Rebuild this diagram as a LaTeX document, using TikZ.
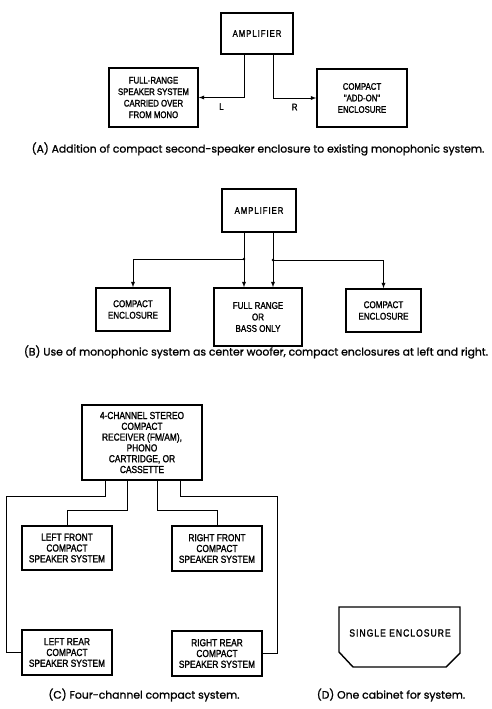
\documentclass[tikz,border=0pt]{standalone}
\usepackage{fontspec}
\newfontfamily\boxfont[FakeStretch=0.82, FakeBold=1.5]{Liberation Sans}
\newfontfamily\widefont[FakeStretch=0.82, FakeBold=1.5, LetterSpace=10]{Liberation Sans}
\newfontfamily\capfont[FakeBold=1.2]{Poppins}
\usetikzlibrary{
  arrows,
  positioning
}

\begin{document}
\begin{tikzpicture}[x=1pt, y=-1pt, >=latex,
        unit/.style={draw, line width=1.4pt, inner sep=0pt, align=center},
        unitA/.style={unit, font=\boxfont\fontsize{9.5}{11.5}\selectfont},
        unitB/.style={unit, font=\boxfont\fontsize{9.8}{11.5}\selectfont},
        unitC/.style={unit, font=\boxfont\fontsize{10.2}{10.8}\selectfont},
        wire/.style={line width=0.9pt},
        caption/.style={font=\capfont\fontsize{10.8}{12}\selectfont}]
        \useasboundingbox (0,0) rectangle (492,709);
        % (A) add-on enclosure
        \node[unitA, minimum width=72pt, minimum height=41pt, font=\widefont\fontsize{9.5}{11.5}\selectfont]
          (ampA) at (257,33.5) {AMPLIFIER};
        \node[unitA, minimum width=89pt, minimum height=59pt] (fullA) at (153.5,97.5)
          {FULL-RANGE\\SPEAKER SYSTEM\\CARRIED OVER\\FROM MONO};
        \node[unitA, minimum width=90pt, minimum height=58pt] (addA) at (362,98)
          {COMPACT\\"ADD-ON"\\ENCLOSURE};
	\draw[wire, ->] ([xshift=-13pt]ampA.south) |- (fullA.east)
          node[pos=0.75, below=2pt, font=\boxfont\fontsize{9.5}{11.5}\selectfont] (labL) {L};
	\draw[wire, ->] ([xshift=16pt]ampA.south) |- (addA.west)
          node[pos=0.75, below=2pt, font=\boxfont\fontsize{9.5}{11.5}\selectfont] (labR) {R};
        \node[caption] (capA) at (258,149)
          {(A) Addition of compact second-speaker enclosure to existing monophonic system.};
        % (B) center woofer
        \node[unitB, minimum width=74pt, minimum height=43pt, font=\widefont\fontsize{9.5}{11.5}\selectfont]
          (ampB) at (259,210.5) {AMPLIFIER};
        \node[unitB, minimum width=74pt, minimum height=43pt] (leftB) at (133,309.5)
          {COMPACT\\ENCLOSURE};
        \node[unitB, minimum width=88pt, minimum height=58pt] (midB) at (258,317)
          {FULL RANGE\\OR\\BASS ONLY};
        \node[unitB, minimum width=75pt, minimum height=43pt] (rightB) at (383.5,310.5)
          {COMPACT\\ENCLOSURE};
        \coordinate (jl) at (244,259);
        \coordinate (jr) at (273,260);
	\draw[wire, ->] (ampB.south -| jl) -- (midB.north -| jl);
	\draw[wire, ->] (ampB.south -| jr) -- (midB.north -| jr);
	\draw[wire, ->] (jl) -| (leftB.north);
	\draw[wire, ->] (jr) -| (rightB.north);
        \filldraw (jl) circle (1.2pt);
        \filldraw (jr) circle (1.2pt);
        \node[caption] (capB) at (256,352)
          {(B) Use of monophonic system as center woofer, compact enclosures at left and right.};
        % (C) four channels
        \node[unitC, minimum width=120pt, minimum height=75pt] (recv) at (142,442.5)
          {4-CHANNEL STEREO\\COMPACT\\RECEIVER (FM/AM),\\PHONO\\CARTRIDGE, OR\\CASSETTE};
        \node[unitC, minimum width=90pt, minimum height=44pt] (lfront) at (67,548)
          {LEFT FRONT\\COMPACT\\SPEAKER SYSTEM};
        \node[unitC, minimum width=90pt, minimum height=45pt] (rfront) at (217,548.5)
          {RIGHT FRONT\\COMPACT\\SPEAKER SYSTEM};
        \node[unitC, minimum width=90pt, minimum height=45pt] (lrear) at (67,652.5)
          {LEFT REAR\\COMPACT\\SPEAKER SYSTEM};
        \node[unitC, minimum width=90pt, minimum height=45pt] (rrear) at (217,653.5)
          {RIGHT REAR\\COMPACT\\SPEAKER SYSTEM};
        \coordinate (ol) at (6,496);
        \coordinate (or) at (277,496);
	\draw[wire] ([xshift=-37pt]recv.south) |- (ol) |- (lrear.west);
	\draw[wire] ([xshift=-15pt]recv.south) |- ([yshift=15pt]lfront.north) -- (lfront.north);
	\draw[wire] ([xshift=15pt]recv.south) |- ([yshift=15pt]rfront.north) -- (rfront.north);
	\draw[wire] ([xshift=38pt]recv.south) |- (or) |- (rrear.east);
        \node[caption] (capC) at (144,695) {(C) Four-channel compact system.};
        % (D) one cabinet
        \draw[line width=1.4pt] (339,607) -- (460,607) -- (460,653) -- (446,667)
          -- (353,667) -- (339,652) -- cycle;
        \node[font=\widefont\fontsize{10.4}{12}\selectfont] (encl) at (400,633) {SINGLE ENCLOSURE};
        \node[caption] (capD) at (391,695) {(D) One cabinet for system.};
\end{tikzpicture}
\end{document}
